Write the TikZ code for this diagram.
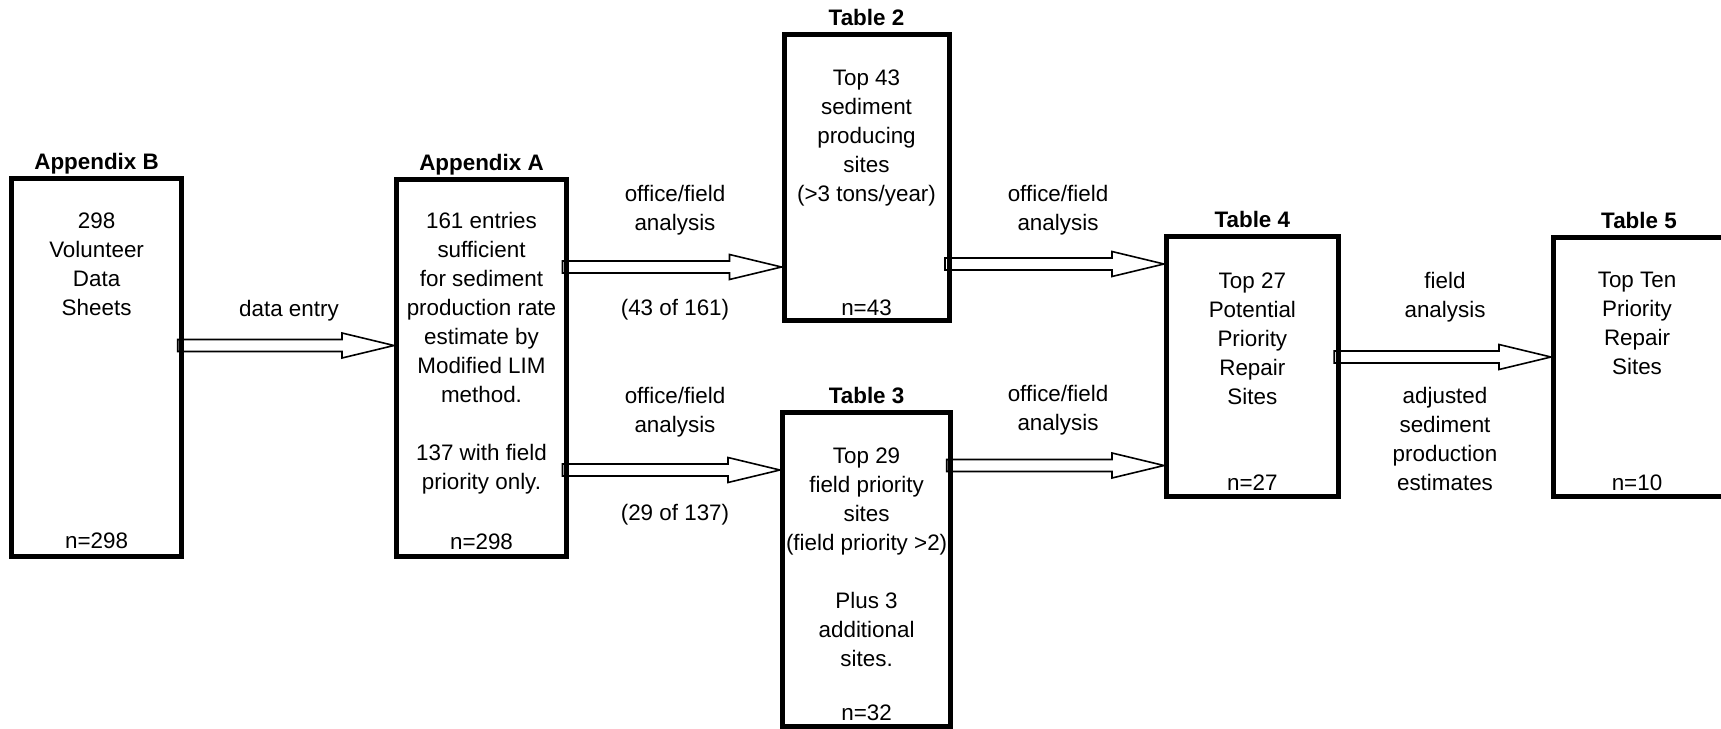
\documentclass[tikz,border=0pt]{standalone}
\usepackage{fontspec}
\setmainfont{Liberation Sans}
\usetikzlibrary{calc}
\pgfdeclarelayer{arrows}
\pgfsetlayers{arrows,main}
\newcommand{\blockarrow}[3]{%
  \draw[arr] let \p1=(#1.east |- #3), \p2=(#2.west |- #3) in
    (\x1-2pt,\y1+3pt) -- (\x2-27.25pt,\y1+3pt) -- (\x2-27.25pt,\y1+6.25pt) --
    (\x2-1.25pt,\y1) -- (\x2-27.25pt,\y1-6.25pt) -- (\x2-27.25pt,\y1-3pt) --
    (\x1-2pt,\y1-3pt) -- cycle;}
\begin{document}
\begin{tikzpicture}[x=0.5pt,y=-0.5pt,
  box/.style={draw, line width=2.5pt, inner sep=0pt, outer sep=0pt},
  txt/.style={align=center, inner sep=0pt, anchor=north, font=\fontsize{11.2}{14.5}\selectfont},
  ttl/.style={inner sep=0pt, anchor=base, font=\fontsize{11.2}{14.5}\selectfont\bfseries},
  arr/.style={draw, line width=0.8pt, fill=white, line join=miter}]
\useasboundingbox (0,0) rectangle (1721,729);
\clip (0,0) rectangle (1721,729);

% boxes
\node[box, minimum width=85.1pt, minimum height=189pt] (appB) at (96.6,367.5) {};
\node[box, minimum width=85pt, minimum height=188.5pt] (appA) at (481.5,368) {};
\node[box, minimum width=82.5pt, minimum height=143.25pt] (t2) at (866.5,177.25) {};
\node[box, minimum width=84.15pt, minimum height=156.9pt] (t3) at (866.6,569.4) {};
\node[box, minimum width=85.85pt, minimum height=130pt] (t4) at (1252.35,366.5) {};
\node[box, minimum width=85.5pt, minimum height=129.5pt] (t5) at (1639,367) {};

% arrow levels
\coordinate (ya1) at (0,345.5);
\coordinate (ya2) at (0,267);
\coordinate (ya3) at (0,470);
\coordinate (ya4) at (0,264);
\coordinate (ya5) at (0,465.5);
\coordinate (ya6) at (0,357);

% block arrows, behind the box borders
\begin{pgfonlayer}{arrows}
\blockarrow{appB}{appA}{ya1}
\blockarrow{appA}{t2}{ya2}
\blockarrow{appA}{t3}{ya3}
\blockarrow{t2}{t4}{ya4}
\blockarrow{t3}{t4}{ya5}
\blockarrow{t4}{t5}{ya6}
\end{pgfonlayer}

% titles
\node[ttl] (tB) at ([yshift=4.5pt]appB.north) {Appendix B};
\node[ttl] (tA) at ([yshift=4.5pt]appA.north) {Appendix A};
\node[ttl] (tt2) at ([yshift=4.5pt]t2.north) {Table 2};
\node[ttl] (tt3) at ([yshift=4.5pt]t3.north) {Table 3};
\node[ttl] (tt4) at ([yshift=4.5pt]t4.north) {Table 4};
\node[ttl] (tt5) at ([yshift=4.5pt]t5.north) {Table 5};

% box texts
\node[txt] (xB) at (96.6,212) {298\\Volunteer\\Data\\Sheets};
\node[txt] (nB) at (96.6,532) {n=298};
\node[txt] (xA) at (481.5,212) {161 entries\\sufficient\\for sediment\\production rate\\estimate by\\Modified LIM\\method.\\[14.5pt]137 with field\\priority only.};
\node[txt] (nA) at (481.5,533) {n=298};
\node[txt] (x2) at (866.5,69) {Top 43\\sediment\\producing\\sites\\(>3 tons/year)};
\node[txt] (n2) at (866.5,299) {n=43};
\node[txt] (x3) at (866.6,447) {Top 29\\field priority\\sites\\(field priority >2)\\[14.5pt]Plus 3\\additional\\sites.};
\node[txt] (n3) at (866.6,704) {n=32};
\node[txt] (x4) at (1252.35,272) {Top 27\\Potential\\Priority\\Repair\\Sites};
\node[txt] (n4) at (1252.35,474) {n=27};
\node[txt] (x5) at (1637,272) {Top Ten\\Priority\\Repair\\Sites};
\node[txt] (n5) at (1637,474) {n=10};

% connector labels
\node[txt] (l1) at (289,300) {data entry};
\node[txt] (l2) at (675,185) {office/field\\analysis};
\node[txt] (l3) at (675,299) {(43 of 161)};
\node[txt] (l4) at (675,387) {office/field\\analysis};
\node[txt] (l5) at (675,504) {(29 of 137)};
\node[txt] (l6) at (1058,185) {office/field\\analysis};
\node[txt] (l7) at (1058,385) {office/field\\analysis};
\node[txt] (l8) at (1445,272) {field\\analysis};
\node[txt] (l9) at (1445,387) {adjusted\\sediment\\production\\estimates};
\end{tikzpicture}
\end{document}
